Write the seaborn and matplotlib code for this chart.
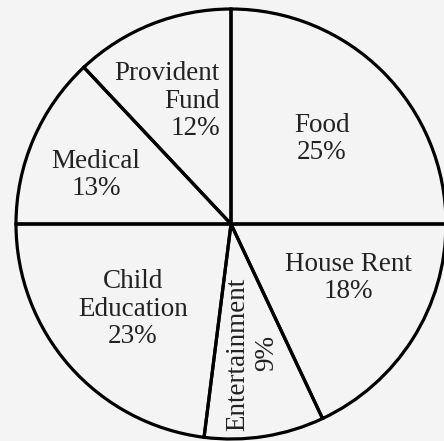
import matplotlib
matplotlib.use('Agg')
import matplotlib.pyplot as plt
import seaborn as sns

# expense shares, clockwise from 12 o'clock
categories = ['Food', 'House Rent', 'Entertainment', 'Child Education', 'Medical', 'Provident Fund']
shares = [25, 18, 9, 23, 13, 12]

sns.set_theme(style='white')
plt.rcParams['font.family'] = ['Liberation Serif', 'DejaVu Serif']

bg = '#f4f4f4'
fig = plt.figure(figsize=(4.44, 4.41), dpi=100, facecolor=bg)
ax = fig.add_axes([0, 0, 1, 1])
ax.set_facecolor(bg)

ax.pie(shares, startangle=90, counterclock=False, radius=1.0,
       wedgeprops=dict(facecolor='none', edgecolor='black', linewidth=2.3))

# pie center at pixel (231, 224), radius 215 px
ax.set_aspect('auto')
ax.set_xlim(-231 / 215, (444 - 231) / 215)
ax.set_ylim((224 - 441) / 215, 224 / 215)
ax.axis('off')


def px(x, y):
    return (x - 231) / 215, (224 - y) / 215


fs = 19.5
kw = dict(fontsize=fs, color='#222222', linespacing=1.12)

ax.text(*px(322, 139), f'{categories[0]}\n{shares[0]}%', ha='center', va='center', **kw)
ax.text(*px(348, 278), f'{categories[1]}\n{shares[1]}%', ha='center', va='center', **kw)
ax.text(*px(238, 354), categories[2], ha='center', va='center', rotation=90, **kw)
ax.text(*px(267, 353), f'{shares[2]}%', ha='center', va='center', rotation=90, **kw)
ax.text(*px(133, 309), 'Child\nEducation\n' + f'{shares[3]}%', ha='center', va='center', **kw)
ax.text(*px(96, 175), f'{categories[4]}\n{shares[4]}%', ha='center', va='center', **kw)
ax.text(*px(220, 101), 'Provident\nFund\n' + f'{shares[5]}%', ha='right', va='center',
        multialignment='right', **kw)

fig.savefig('out.png', dpi=100, facecolor=bg)
